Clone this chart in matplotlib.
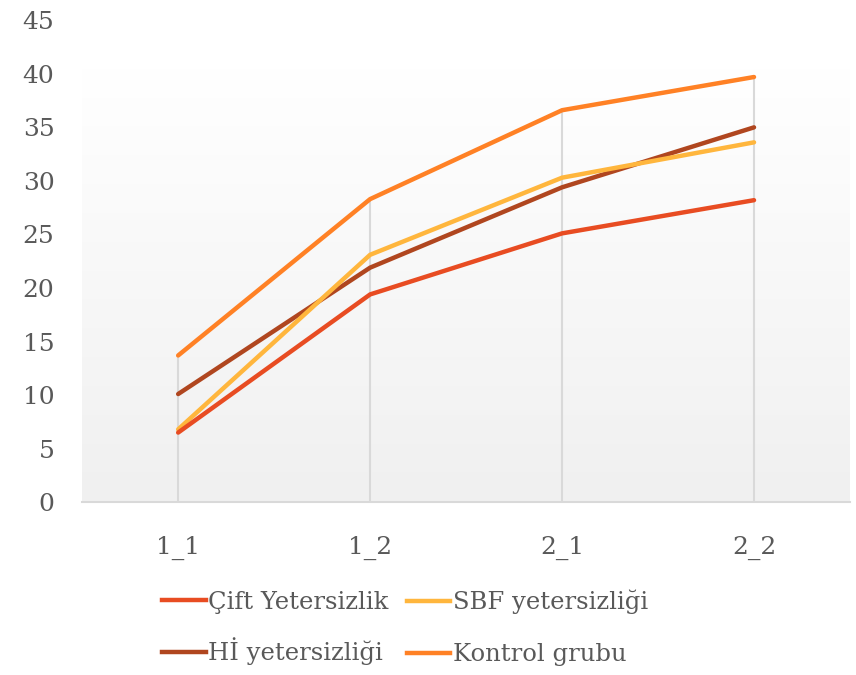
import numpy as np
import matplotlib.pyplot as plt
from matplotlib.lines import Line2D
from matplotlib.colors import LinearSegmentedColormap

# data
categories = ["1_1", "1_2", "2_1", "2_2"]
cift = [6.5, 19.4, 25.1, 28.2]
sbf = [6.8, 23.1, 30.3, 33.6]
hi = [10.1, 21.9, 29.4, 35.0]
kontrol = [13.7, 28.3, 36.6, 39.7]

series_names = ["Çift Yetersizlik", "SBF yetersizliği", "Hİ yetersizliği", "Kontrol grubu"]
colors = ["#E84C22", "#FFB63D", "#B0461F", "#FF8125"]

text_color = "#595959"
plt.rcParams["font.family"] = ["DejaVu Serif"]

fig = plt.figure(figsize=(8.56, 6.75), dpi=100)
ax = fig.add_axes([0.096, 0.256, 0.897, 0.714])

x = np.arange(len(categories))
ax.set_xlim(-0.5, len(categories) - 0.5)
ax.set_ylim(0, 45)

# soft vertical gradient behind the plot
grad = np.linspace(0, 1, 256).reshape(-1, 1)
bg = LinearSegmentedColormap.from_list("bg", ["#F0F0F0", "#FFFFFF"])
ax.imshow(grad, extent=(-0.5, len(categories) - 0.5, 0, 40.5), aspect="auto",
          cmap=bg, origin="lower", zorder=0)

# drop lines from the highest series down to the axis
tops = np.max([cift, sbf, hi, kontrol], axis=0)
ax.vlines(x, 0, tops, color="#D9D9D9", lw=1.5, zorder=1)

# draw order: kontrol, hi, sbf, cift on top
for vals, c in [(kontrol, colors[3]), (hi, colors[2]), (sbf, colors[1]), (cift, colors[0])]:
    ax.plot(x, vals, color=c, lw=3.2, solid_capstyle="round", zorder=3)

ax.set_xticks(x)
ax.set_xticklabels(categories)
ax.set_yticks(range(0, 46, 5))
ax.tick_params(length=0, labelsize=18, colors=text_color)
ax.tick_params(axis="y", pad=20)
ax.tick_params(axis="x", pad=24)
for s in ["top", "right", "left"]:
    ax.spines[s].set_visible(False)
ax.spines["bottom"].set_color("#D9D9D9")
ax.spines["bottom"].set_linewidth(1.5)

# one legend per entry so the 2x2 grid lines up like the original
slots = [(0.189, 0.108), (0.475, 0.108), (0.189, 0.035), (0.475, 0.030)]
for name, c, (lx, ly) in zip(series_names, colors, slots):
    leg = fig.legend([Line2D([], [], color=c, lw=3.2)], [name], loc="center left",
                     bbox_to_anchor=(lx, ly), frameon=False, fontsize=17.5,
                     handlelength=1.8, handletextpad=0.12, borderaxespad=0,
                     borderpad=0)
    leg.get_texts()[0].set_color(text_color)

fig.savefig("out.png", dpi=100)
